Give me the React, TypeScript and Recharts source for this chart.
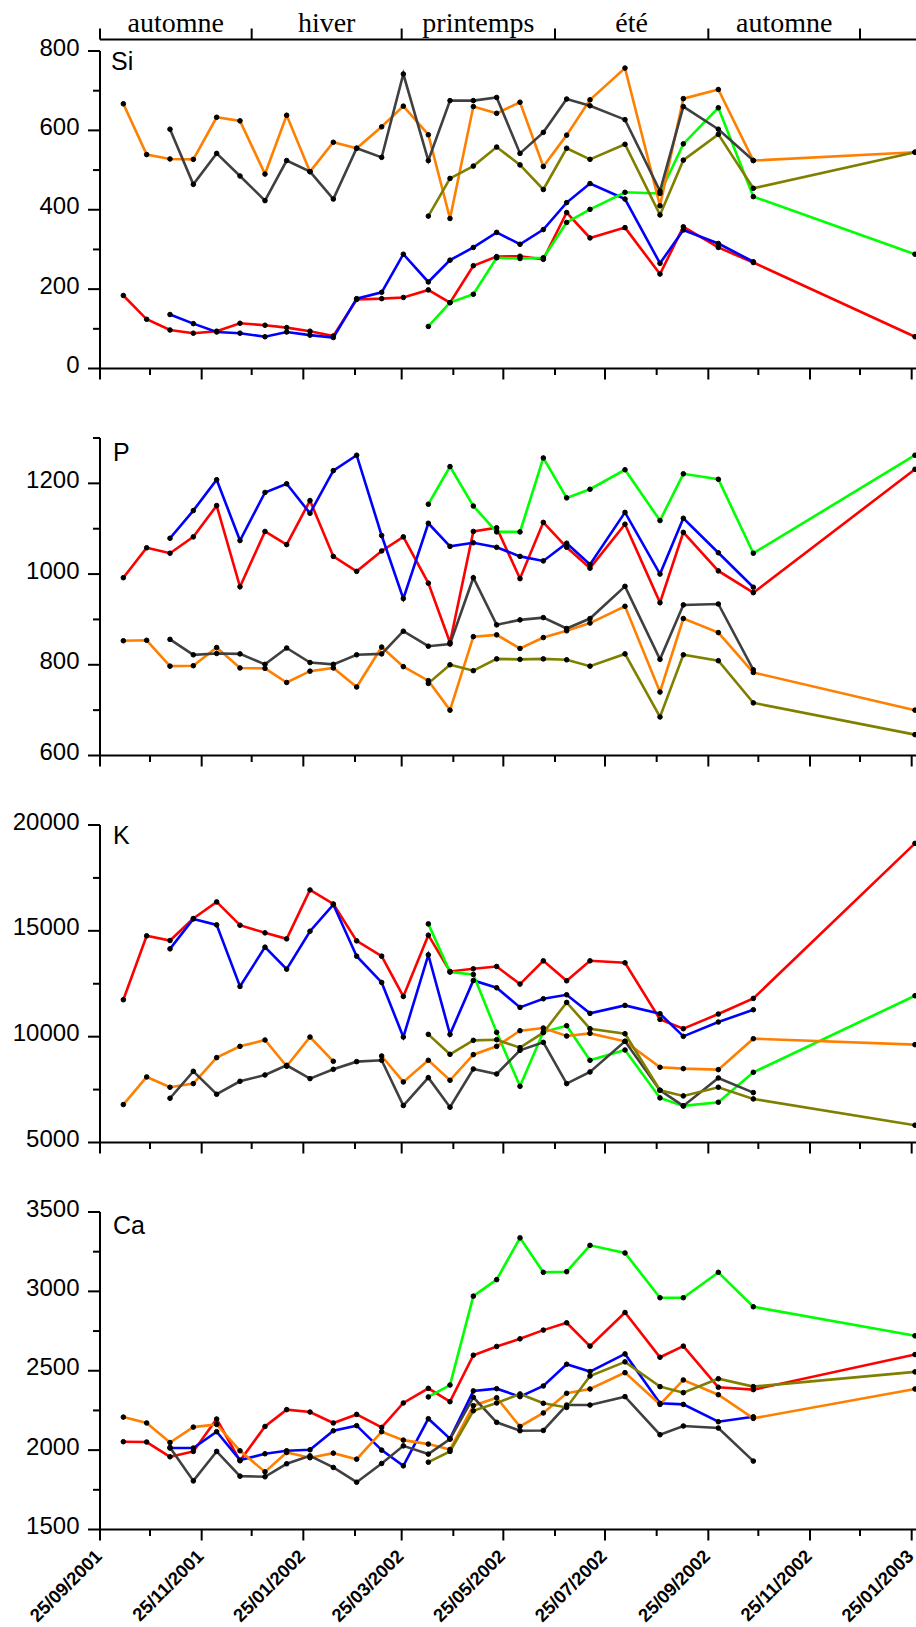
import { Line, LineChart, ReferenceLine, XAxis, YAxis } from "recharts";

// sampling dates (dd/mm/yyyy)
const sampleDates = [
  "09/10/2001", "23/10/2001", "06/11/2001", "20/11/2001", "04/12/2001", "18/12/2001",
  "02/01/2002", "15/01/2002", "29/01/2002", "12/02/2002", "26/02/2002", "13/03/2002",
  "26/03/2002", "10/04/2002", "23/04/2002", "07/05/2002", "21/05/2002", "04/06/2002",
  "18/06/2002", "02/07/2002", "16/07/2002", "06/08/2002", "27/08/2002", "10/09/2002",
  "01/10/2002", "22/10/2002", "27/01/2003",
];

const majorDateTicks = [
  "25/09/2001", "25/11/2001", "25/01/2002", "25/03/2002", "25/05/2002",
  "25/07/2002", "25/09/2002", "25/11/2002", "25/01/2003",
];
const minorDateTicks = [
  "25/10/2001", "25/12/2001", "25/02/2002", "25/04/2002", "25/06/2002",
  "25/08/2002", "25/10/2002", "25/12/2002",
];

const seasonBounds = ["25/09/2001", "25/12/2001", "25/03/2002", "25/06/2002", "25/09/2002", "25/12/2002"];
const seasonNames = ["automne", "hiver", "printemps", "été", "automne"];

// Si
const siRed = [184, 124, 97, 89, 94, 114, 109, 103, 94, 82, 174, 176, 179, 198, 166, 259, 282, 283, 275, 393, 329, 355, 238, 357, 305, 267, 80];
const siBlue = [null, null, 136, 113, 92, 89, 80, 92, 84, 78, 176, 192, 288, 218, 273, 305, 343, 313, 350, 418, 466, 427, 265, 349, 315, 269, null];
const siGreen = [null, null, null, null, null, null, null, null, null, null, null, null, null, 106, 166, 187, 279, 277, 279, 368, 401, 444, 441, 566, 657, 433, 288];
const siOrange = [667, 539, 528, 527, 633, 624, 490, 638, 496, 570, 555, 609, 661, 589, 378, 660, 643, 671, 509, 588, 677, 757, 410, 680, 703, 524, 545];
const siGray = [null, null, 603, 464, 542, 485, 423, 524, 496, 427, 555, 532, 742, 524, 675, 675, 683, 542, 595, 679, 662, 627, 447, 660, 603, 524, null];
const siOlive = [null, null, null, null, null, null, null, null, null, null, null, null, null, 384, 479, 510, 558, 513, 451, 555, 527, 565, 387, 525, 590, 454, 545];

// P
const pRed = [992, 1058, 1046, 1082, 1151, 972, 1094, 1065, 1162, 1039, 1006, 1051, 1082, 980, 849, 1094, 1102, 990, 1114, 1059, 1013, 1110, 937, 1092, 1007, 959, 1231];
const pBlue = [null, null, 1079, 1140, 1208, 1074, 1180, 1199, 1134, 1228, 1262, 1085, 946, 1112, 1061, 1069, 1059, 1039, 1029, 1068, 1021, 1136, 1000, 1123, 1047, 971, null];
const pGreen = [null, null, null, null, null, null, null, null, null, null, null, null, null, 1154, 1237, 1150, 1093, 1093, 1256, 1168, 1187, 1230, 1118, 1221, 1209, 1046, 1262];
const pOrange = [853, 854, 797, 798, 838, 793, 792, 761, 786, 793, 751, 839, 796, 765, 700, 862, 866, 836, 860, 875, 892, 929, 740, 902, 871, 783, 700];
const pGray = [null, null, 856, 822, 825, 824, 801, 837, 805, 801, 822, 824, 874, 841, 846, 992, 888, 899, 904, 880, 902, 973, 812, 932, 934, 789, null];
const pOlive = [null, null, null, null, null, null, null, null, null, null, null, null, null, 759, 800, 787, 813, 812, 813, 811, 797, 824, 685, 822, 809, 716, 646];

// K
const kRed = [11745, 14763, 14543, 15580, 16366, 15265, 14904, 14621, 16931, 16271, 14527, 13803, 11901, 14794, 13080, 13206, 13316, 12483, 13583, 12640, 13583, 13489, 10816, 10376, 11068, 11807, 19132];
const kBlue = [null, null, 14149, 15564, 15281, 12373, 14228, 13190, 14982, 16240, 13803, 12561, 9983, 13866, 10109, 12656, 12310, 11383, 11791, 11980, 11100, 11477, 11084, 10015, 10691, 11272, null];
const kGreen = [null, null, null, null, null, null, null, null, null, null, null, null, null, 15328, 13050, 12939, 10203, 7657, 10219, 10518, 8883, 9370, 7106, 6729, 6902, 8317, 11933];
const kOrange = [6792, 8097, 7610, 7782, 9009, 9543, 9842, 8600, 9983, 8836, null, 9087, 7861, 8883, 7940, 9150, 9543, 10282, 10408, 10030, 10156, 9779, 8553, 8490, 8443, 9905, 9622];
const kGray = [null, null, 7091, 8364, 7279, 7892, 8191, 8647, 8018, 8458, 8820, 8883, 6745, 8065, 6666, 8474, 8238, 9354, 9732, 7782, 8333, 9779, 7468, 6729, 8050, 7358, null];
const kOlive = [null, null, null, null, null, null, null, null, null, null, null, null, null, 10109, 9166, 9826, 9857, 9480, 10188, 11618, 10376, 10140, 7468, 7201, 7610, 7059, 5817];

// Ca
const caRed = [2053, 2051, 1958, 1992, 2196, 1933, 2149, 2255, 2240, 2171, 2225, 2143, 2297, 2389, 2305, 2598, 2653, 2701, 2756, 2802, 2655, 2867, 2585, 2655, 2396, 2381, 2602];
const caBlue = [null, null, 2013, 2013, 2116, 1937, 1977, 1996, 2002, 2122, 2154, 2000, 1901, 2198, 2072, 2373, 2387, 2337, 2404, 2541, 2495, 2606, 2295, 2288, 2179, 2210, null];
const caGreen = [null, null, null, null, null, null, null, null, null, null, null, null, null, 2335, 2410, 2970, 3074, 3337, 3120, 3124, 3290, 3242, 2960, 2960, 3120, 2903, 2720];
const caOrange = [2208, 2171, 2048, 2145, 2162, 1996, 1863, 1985, 1952, 1981, 1943, 2116, 2063, 2038, 2004, 2280, 2330, 2149, 2234, 2358, 2385, 2488, 2288, 2442, 2349, 2200, 2385];
const caGray = [null, null, 2017, 1806, 1992, 1836, 1832, 1914, 1964, 1891, 1798, 1916, 2027, 1975, 2069, 2333, 2175, 2122, 2124, 2284, 2284, 2337, 2097, 2152, 2139, 1931, null];
const caOlive = [null, null, null, null, null, null, null, null, null, null, null, null, null, 1924, 1992, 2248, 2297, 2354, 2295, 2269, 2467, 2556, 2400, 2362, 2450, 2400, 2493];

const COLORS = {
  red: "#ff0000",
  blue: "#0000ff",
  green: "#00ff00",
  orange: "#ff8000",
  gray: "#404040",
  olive: "#808000",
};
const SERIES_ORDER = ["red", "blue", "green", "orange", "gray", "olive"] as const;

const SANS = "'Liberation Sans', Arial, sans-serif";
const SERIF = "'Liberation Serif', 'Times New Roman', serif";

const ORIGIN = Date.UTC(2001, 8, 25);
function toDay(s: string) {
  const [d, m, y] = s.split("/").map(Number);
  return Math.round((Date.UTC(y, m - 1, d) - ORIGIN) / 86400000);
}

const X_DOMAIN: [number, number] = [0, 504];
const majorDays = majorDateTicks.map(toDay);
const minorDays = minorDateTicks.map(toDay);
const allDateTicks = [...majorDays, ...minorDays].sort((a, b) => a - b);
const boundDays = seasonBounds.map(toDay);
const seasonMids = seasonNames.map((_, i) => (boundDays[i] + boundDays[i + 1]) / 2);
const seasonTicks = [...boundDays, ...seasonMids].sort((a, b) => a - b);

function buildRows(cols: Record<string, (number | null)[]>) {
  return sampleDates.map((d, i) => {
    const row: Record<string, number | null> = { day: toDay(d) };
    for (const k of Object.keys(cols)) row[k] = cols[k][i];
    return row;
  });
}

function YTick({ x, y, payload, labels }: any) {
  const major = labels.includes(payload.value);
  return (
    <g>
      <line x1={x - (major ? 12 : 7)} x2={x} y1={y} y2={y} stroke="#000" strokeWidth={2} />
      {major && (
        <text x={x - 20.5} y={y + 4.6} textAnchor="end" fontSize={24} fontFamily={SANS} fill="#000">
          {payload.value}
        </text>
      )}
    </g>
  );
}

function XTick({ x, y, payload, showLabel }: any) {
  const idx = majorDays.indexOf(payload.value);
  const major = idx >= 0;
  const lx = x + 3;
  const ly = y + 28;
  return (
    <g>
      <line x1={x} x2={x} y1={y} y2={y + (major ? 11 : 6.5)} stroke="#000" strokeWidth={2} />
      {showLabel && major && (
        <text
          x={lx}
          y={ly}
          transform={`rotate(-45 ${lx} ${ly})`}
          textAnchor="end"
          fontSize={18.5}
          fontWeight="bold"
          fontFamily={SANS}
          fill="#000"
        >
          {majorDateTicks[idx]}
        </text>
      )}
    </g>
  );
}

function SeasonTick({ x, y, payload }: any) {
  const mi = seasonMids.indexOf(payload.value);
  if (mi >= 0) {
    return (
      <text x={x} y={y - 8} textAnchor="middle" fontSize={28} fontFamily={SERIF} fill="#000">
        {seasonNames[mi]}
      </text>
    );
  }
  return <line x1={x} x2={x} y1={y} y2={y - 11} stroke="#000" strokeWidth={2} />;
}

type PanelProps = {
  top: number;
  marginTop: number;
  plotHeight: number;
  bottomHeight: number;
  rows: Record<string, number | null>[];
  yDomain: [number, number];
  yTicks: number[];
  yLabels: number[];
  dates?: boolean;
  seasons?: boolean;
};

function Panel({ top, marginTop, plotHeight, bottomHeight, rows, yDomain, yTicks, yLabels, dates, seasons }: PanelProps) {
  const height = marginTop + plotHeight + bottomHeight;
  return (
    <div style={{ position: "absolute", left: 0, top, width: 950, height }}>
      <LineChart width={950} height={height} data={rows} margin={{ top: seasons ? 0 : marginTop, right: 10, bottom: 0, left: 0 }}>
        <XAxis
          dataKey="day"
          type="number"
          domain={X_DOMAIN}
          ticks={allDateTicks}
          interval={0}
          height={bottomHeight}
          tickSize={0}
          tickMargin={0}
          tickLine={false}
          axisLine={{ stroke: "#000", strokeWidth: 2 }}
          tick={(p: any) => <XTick {...p} showLabel={!!dates} />}
        />
        {seasons && (
          <XAxis
            xAxisId="season"
            orientation="top"
            dataKey="day"
            type="number"
            domain={X_DOMAIN}
            ticks={seasonTicks}
            interval={0}
            height={marginTop}
            tickSize={0}
            tickMargin={0}
            tickLine={false}
            axisLine={{ stroke: "#000", strokeWidth: 2 }}
            tick={(p: any) => <SeasonTick {...p} />}
          />
        )}
        <YAxis
          type="number"
          domain={yDomain}
          ticks={yTicks}
          interval={0}
          width={100}
          tickSize={0}
          tickMargin={0}
          tickLine={false}
          axisLine={seasons ? false : { stroke: "#000", strokeWidth: 2 }}
          tick={(p: any) => <YTick {...p} labels={yLabels} />}
        />
        {seasons && (
          <ReferenceLine
            segment={[
              { x: X_DOMAIN[0], y: yTicks[0] },
              { x: X_DOMAIN[0], y: yTicks[yTicks.length - 1] },
            ]}
            stroke="#000"
            strokeWidth={2}
          />
        )}
        {SERIES_ORDER.map((k) => (
          <Line
            key={k}
            dataKey={k}
            type="linear"
            stroke={COLORS[k]}
            strokeWidth={2.6}
            dot={{ r: 2.3, fill: "#000", stroke: "#000", strokeWidth: 1 }}
            activeDot={false}
            connectNulls={false}
            isAnimationActive={false}
          />
        ))}
      </LineChart>
    </div>
  );
}

const siRows = buildRows({ red: siRed, blue: siBlue, green: siGreen, orange: siOrange, gray: siGray, olive: siOlive });
const pRows = buildRows({ red: pRed, blue: pBlue, green: pGreen, orange: pOrange, gray: pGray, olive: pOlive });
const kRows = buildRows({ red: kRed, blue: kBlue, green: kGreen, orange: kOrange, gray: kGray, olive: kOlive });
const caRows = buildRows({ red: caRed, blue: caBlue, green: caGreen, orange: caOrange, gray: caGray, olive: caOlive });

export default function App() {
  return (
    <div style={{ position: "absolute", left: 0, top: 0, width: 916, height: 1627, overflow: "hidden", background: "#fff" }}>
      <Panel
        top={0}
        marginTop={39.5}
        plotHeight={329}
        bottomHeight={12}
        rows={siRows}
        yDomain={[0, 829]}
        yTicks={[0, 100, 200, 300, 400, 500, 600, 700, 800]}
        yLabels={[0, 200, 400, 600, 800]}
        seasons
      />
      <Panel
        top={418}
        marginTop={20}
        plotHeight={317.5}
        bottomHeight={12}
        rows={pRows}
        yDomain={[600, 1300]}
        yTicks={[600, 700, 800, 900, 1000, 1100, 1200, 1300]}
        yLabels={[600, 800, 1000, 1200]}
      />
      <Panel
        top={805}
        marginTop={20}
        plotHeight={317.5}
        bottomHeight={12}
        rows={kRows}
        yDomain={[5000, 20000]}
        yTicks={[5000, 7500, 10000, 12500, 15000, 17500, 20000]}
        yLabels={[5000, 10000, 15000, 20000]}
      />
      <Panel
        top={1192}
        marginTop={20}
        plotHeight={317.5}
        bottomHeight={100}
        rows={caRows}
        yDomain={[1500, 3500]}
        yTicks={[1500, 1750, 2000, 2250, 2500, 2750, 3000, 3250, 3500]}
        yLabels={[1500, 2000, 2500, 3000, 3500]}
        dates
      />
      <svg width={916} height={1627} style={{ position: "absolute", left: 0, top: 0, pointerEvents: "none" }}>
        <g fontFamily={SANS} fontSize={25} fill="#000">
          <text x={111} y={70}>Si</text>
          <text x={113} y={461}>P</text>
          <text x={113} y={844}>K</text>
          <text x={113} y={1234}>Ca</text>
        </g>
      </svg>
    </div>
  );
}
